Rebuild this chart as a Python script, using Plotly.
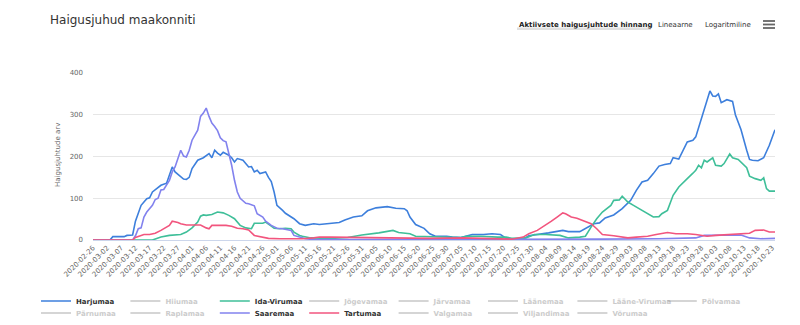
import plotly.graph_objects as go

# ---------------- data ----------------
YEAR = "2020-"

harju_days = ["02-26", "03-03", "03-04", "03-08", "03-09", "03-11", "03-12", "03-14", "03-16", "03-17",
              "03-18", "03-19", "03-21", "03-23", "03-24", "03-25", "03-26", "03-27", "03-29", "03-30",
              "03-31", "04-01", "04-03", "04-05", "04-07", "04-08", "04-09", "04-10", "04-11", "04-12",
              "04-14", "04-15", "04-16", "04-17", "04-19", "04-21", "04-22", "04-23", "04-24", "04-25",
              "04-27", "04-28", "04-29", "04-30", "05-01", "05-03", "05-04", "05-07", "05-09", "05-11",
              "05-14", "05-16", "05-20", "05-23", "05-25", "05-28", "05-31", "06-02", "06-05", "06-09",
              "06-12", "06-15", "06-16", "06-17", "06-19", "06-22", "06-24", "06-26", "06-30", "07-02",
              "07-05", "07-07", "07-09", "07-13", "07-16", "07-19", "07-21", "07-23", "07-27", "07-29",
              "08-02", "08-05", "08-10", "08-12", "08-16", "08-18", "08-21", "08-23", "08-25", "08-28",
              "08-31", "09-03", "09-05", "09-07", "09-09", "09-11", "09-13", "09-15", "09-17", "09-18",
              "09-20", "09-23", "09-25", "09-26", "09-29", "10-01", "10-02", "10-03", "10-04", "10-05",
              "10-07", "10-09", "10-10", "10-12", "10-14", "10-15", "10-16", "10-18", "10-20", "10-22",
              "10-24"]
harju_vals = [0, 0, 8, 8, 11, 12, 45, 83, 99, 101,
              115, 120, 131, 136, 155, 175, 163, 157, 146, 145,
              150, 171, 191, 197, 207, 197, 215, 208, 203, 210,
              203, 197, 187, 195, 191, 175, 176, 163, 167, 159,
              163, 150, 140, 115, 83, 71, 64, 51, 39, 35,
              39, 37, 39, 42, 48, 55, 58, 70, 77, 80,
              76, 75, 70, 55, 37, 28, 15, 9, 9, 7,
              6, 9, 13, 13, 15, 13, 4, 2, 2, 10,
              13, 17, 23, 20, 20, 27, 39, 41, 53, 60,
              75, 95, 119, 139, 143, 159, 177, 181, 183, 197,
              194, 235, 239, 247, 312, 357, 345, 344, 350, 329,
              336, 332, 300, 264, 215, 193, 191, 190, 197, 227,
              264]

ida_days = ["02-26", "03-18", "03-21", "03-24", "03-28", "03-30", "04-01", "04-03", "04-04", "04-05",
            "04-06", "04-08", "04-10", "04-12", "04-14", "04-16", "04-18", "04-20", "04-22", "04-23",
            "04-26", "04-27", "04-29", "04-30", "05-02", "05-04", "05-06", "05-07", "05-09", "05-10",
            "05-13", "05-16", "05-20", "05-26", "05-31", "06-06", "06-11", "06-13", "06-17", "06-19",
            "06-24", "06-30", "07-05", "07-07", "07-12", "07-18", "07-21", "07-23", "07-28", "07-31",
            "08-04", "08-09", "08-12", "08-16", "08-18", "08-20", "08-22", "08-24", "08-27", "08-28",
            "08-30", "08-31", "09-02", "09-04", "09-06", "09-09", "09-11", "09-13", "09-14", "09-16",
            "09-18", "09-20", "09-22", "09-23", "09-25", "09-26", "09-27", "09-28", "09-29", "09-30",
            "10-02", "10-03", "10-05", "10-06", "10-08", "10-09", "10-11", "10-13", "10-14", "10-15",
            "10-17", "10-19", "10-20", "10-21", "10-22", "10-24"]
ida_vals = [0, 0, 7, 11, 13, 19, 29, 43, 57, 60,
            59, 61, 67, 65, 59, 51, 35, 29, 27, 40,
            40, 43, 33, 28, 27, 28, 27, 19, 11, 9,
            5, 4, 4, 6, 12, 17, 23, 18, 15, 9,
            8, 6, 6, 9, 9, 7, 7, 4, 5, 13,
            13, 11, 5, 7, 9, 31, 51, 67, 83, 95,
            96, 105, 91, 83, 75, 64, 55, 56, 63, 71,
            107, 127, 139, 147, 160, 167, 179, 173, 191, 187,
            197, 179, 177, 183, 206, 197, 193, 179, 173, 153,
            147, 143, 149, 123, 117, 117]

saare_days = ["02-26", "03-11", "03-12", "03-13", "03-14", "03-15", "03-16", "03-18", "03-19", "03-20",
              "03-21", "03-22", "03-24", "03-25", "03-26", "03-27", "03-28", "03-29", "03-30", "03-31",
              "04-01", "04-03", "04-04", "04-05", "04-06", "04-07", "04-08", "04-09", "04-10", "04-11",
              "04-12", "04-13", "04-14", "04-15", "04-16", "04-17", "04-18", "04-19", "04-20", "04-21",
              "04-23", "04-24", "04-26", "04-27", "04-29", "05-01", "05-03", "05-06", "05-07", "05-09",
              "05-11", "05-14", "06-25", "07-25", "08-24", "09-13", "09-26", "09-29", "10-08", "10-12",
              "10-15", "10-19", "10-24"]
saare_vals = [0, 0, 10, 27, 29, 55, 67, 83, 97, 100,
              120, 121, 143, 163, 175, 195, 215, 201, 199, 215,
              239, 263, 296, 304, 316, 296, 280, 272, 262, 245,
              238, 235, 207, 179, 143, 115, 100, 93, 88, 87,
              82, 63, 55, 45, 35, 28, 27, 23, 11, 7,
              3, 1, 1, 1, 2, 3, 5, 11, 12, 12,
              5, 3, 4]

tartu_days = ["02-26", "03-11", "03-12", "03-15", "03-17", "03-19", "03-21", "03-22", "03-24", "03-25",
              "03-26", "03-27", "03-28", "03-30", "04-01", "04-04", "04-06", "04-07", "04-08", "04-11",
              "04-13", "04-15", "04-17", "04-19", "04-21", "04-23", "04-26", "04-28", "05-02", "05-07",
              "05-10", "05-14", "05-16", "05-20", "05-31", "06-06", "06-24", "07-06", "07-18", "07-23",
              "07-27", "07-29", "08-01", "08-03", "08-05", "08-06", "08-08", "08-10", "08-11", "08-13",
              "08-15", "08-17", "08-20", "08-22", "08-24", "08-28", "08-31", "09-02", "09-05", "09-09",
              "09-12", "09-16", "09-19", "09-23", "09-26", "09-30", "10-03", "10-08", "10-12", "10-15",
              "10-17", "10-20", "10-22", "10-24"]
tartu_vals = [0, 0, 6, 13, 13, 16, 23, 27, 35, 45,
              44, 42, 39, 36, 36, 36, 29, 27, 35, 35,
              35, 33, 28, 27, 24, 11, 7, 4, 3, 2,
              3, 5, 7, 7, 6, 5, 4, 5, 4, 2,
              7, 15, 23, 31, 40, 45, 55, 65, 63, 55,
              52, 47, 39, 27, 13, 10, 7, 5, 7, 9,
              13, 18, 15, 15, 13, 9, 11, 13, 15, 16,
              23, 24, 19, 19]

row1_counties = ["Harjumaa", "Hiiumaa", "Ida-Virumaa", "Jõgevamaa", "Järvamaa", "Läänemaa",
                 "Lääne-Virumaa", "Põlvamaa"]
row2_counties = ["Pärnumaa", "Raplamaa", "Saaremaa", "Tartumaa", "Valgamaa", "Viljandimaa", "Võrumaa"]

shown = {
    "Harjumaa": (harju_days, harju_vals, "#3d7fdc"),
    "Ida-Virumaa": (ida_days, ida_vals, "#3fbf99"),
    "Saaremaa": (saare_days, saare_vals, "#8282ee"),
    "Tartumaa": (tartu_days, tartu_vals, "#f2557e"),
}

x_range = ["2020-02-26", "2020-10-24"]
y_ticks = [0, 100, 200, 300, 400]

# ---------------- layout helpers ----------------
W, H = 800, 325
L, R, T, B = 93, 25, 73, 85
PW, PH = W - L - R, H - T - B
FONT = "DejaVu Sans"


def pxx(x):
    return (x - L) / PW


def pxy(y):
    return (H - B - y) / PH


fig = go.Figure()

for legend_id, names in (("legend", row1_counties), ("legend2", row2_counties)):
    for name in names:
        if name in shown:
            days, vals, color = shown[name]
            fig.add_trace(go.Scatter(
                x=[YEAR + d for d in days], y=vals, mode="lines", name=name,
                line=dict(color=color, width=1.6), legend=legend_id,
                hoverinfo="x+y+name"))
        else:
            # hidden (deselected) county: only its legend entry is visible
            fig.add_trace(go.Scatter(
                x=[x_range[0]], y=[None], mode="lines", visible="legendonly",
                name=f"<span style='color:#999999'>{name}</span>",
                line=dict(color="#999999", width=1.6), legend=legend_id))

legend_common = dict(
    orientation="h", xanchor="left", yanchor="middle",
    x=pxx(36), entrywidth=44.4, entrywidthmode="pixels",
    font=dict(family=FONT, size=7, color="#333333", weight="bold"),
    bgcolor="rgba(0,0,0,0)", traceorder="normal", tracegroupgap=0,
)

fig.update_layout(
    width=W, height=H,
    margin=dict(l=L, r=R, t=T, b=B, pad=0, autoexpand=False),
    paper_bgcolor="white", plot_bgcolor="white",
    font=dict(family=FONT, color="#666666"),
    showlegend=True,
    title=dict(text="Haigusjuhud maakonniti", xref="container", yref="container",
               x=50 / W, y=1 - 20 / H, xanchor="left", yanchor="middle",
               font=dict(family=FONT, size=12, color="#333333")),
    legend=dict(y=pxy(301), **legend_common),
    legend2=dict(y=pxy(313), **legend_common),
    xaxis=dict(type="date", range=x_range, tick0="2020-02-26", dtick=5 * 86400000,
               tickformat="%Y-%m-%d", tickangle=-45, showgrid=False, zeroline=False,
               showline=True, linecolor="#ccd6eb", linewidth=1, ticks="",
               tickfont=dict(family=FONT, size=7, color="#666666"), automargin=False),
    yaxis=dict(range=[0, 400], tickvals=y_ticks, showgrid=True, gridcolor="#e6e6e6",
               gridwidth=1, zeroline=False, ticks="", ticklabelstandoff=9,
               tickfont=dict(family=FONT, size=7, color="#666666"), automargin=False),
    annotations=[
        dict(text="Haigusjuhtude arv", xref="paper", yref="paper", x=pxx(58), y=pxy(155),
             textangle=-90, showarrow=False, xanchor="center", yanchor="middle",
             font=dict(family=FONT, size=7, color="#666666")),
        dict(text="<b>Aktiivsete haigusjuhtude hinnang</b>", xref="paper", yref="paper",
             x=pxx(517), y=pxy(25), xanchor="left", yanchor="middle", showarrow=False,
             font=dict(family=FONT, size=7, color="#222222")),
        dict(text="Lineaarne", xref="paper", yref="paper",
             x=pxx(656), y=pxy(25), xanchor="left", yanchor="middle", showarrow=False,
             font=dict(family=FONT, size=7, color="#333333")),
        dict(text="Logaritmiline", xref="paper", yref="paper",
             x=pxx(703), y=pxy(25), xanchor="left", yanchor="middle", showarrow=False,
             font=dict(family=FONT, size=7, color="#333333")),
    ],
    shapes=[
        dict(type="rect", xref="paper", yref="paper", x0=pxx(517), x1=pxx(651),
             y0=pxy(30), y1=pxy(27.5), fillcolor="#e0e0e0", line=dict(width=0), layer="below"),
    ] + [
        dict(type="line", xref="paper", yref="paper", x0=pxx(763), x1=pxx(775),
             y0=pxy(yy), y1=pxy(yy), line=dict(color="#666666", width=1.8))
        for yy in (21, 24.5, 28)
    ],
)

fig.write_html("out.html", config={"displayModeBar": False})
